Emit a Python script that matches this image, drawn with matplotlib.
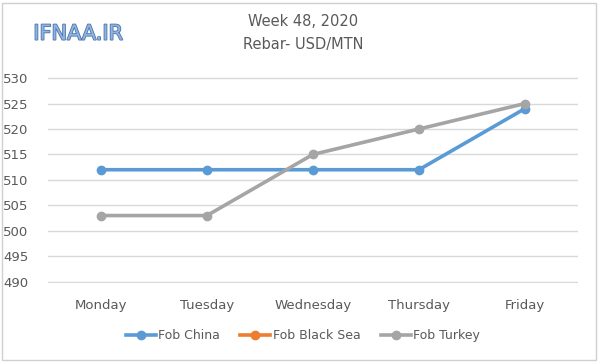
import matplotlib.pyplot as plt
import matplotlib.patheffects as pe
import numpy as np

# data
days = ["Monday", "Tuesday", "Wednesday", "Thursday", "Friday"]
fob_china = [512, 512, 512, 512, 524]
fob_black_sea = [np.nan] * 5  # no values reported this week
fob_turkey = [503, 503, 515, 520, 525]

text_col = "#595959"

fig = plt.figure(figsize=(6, 3.62), dpi=100)
ax = fig.add_axes([0.08, 0.219, 0.883, 0.568])

x = np.arange(len(days))
ax.plot(x, fob_china, color="#5B9BD5", lw=2.6, marker="o", ms=6, label="Fob China", zorder=3)
ax.plot(x, fob_black_sea, color="#ED7D31", lw=2.6, marker="o", ms=6, label="Fob Black Sea", zorder=3)
ax.plot(x, fob_turkey, color="#A5A5A5", lw=2.6, marker="o", ms=6, label="Fob Turkey", zorder=3)

ax.set_xlim(-0.5, len(days) - 0.5)
ax.set_ylim(489.8, 530.2)
ax.set_yticks(range(490, 531, 5))
ax.set_xticks(x)
ax.set_xticklabels(days)
ax.grid(axis="y", color="#D9D9D9", lw=1)
ax.set_axisbelow(True)
for s in ax.spines.values():
    s.set_visible(False)
ax.tick_params(length=0, colors=text_col, labelsize=9.5)
ax.tick_params(axis="x", pad=12)
ax.tick_params(axis="y", pad=14)

fig.text(0.505, 0.94, "Week 48, 2020", ha="center", va="center", fontsize=10.5, color=text_col)
fig.text(0.505, 0.878, "Rebar- USD/MTN", ha="center", va="center", fontsize=10.5, color=text_col)

# watermark
fig.text(0.13, 0.907, "IFNAA.IR", ha="center", va="center", fontsize=15,
         color="#8DB4E2", path_effects=[pe.withStroke(linewidth=1.2, foreground="#4F73A8")])

fig.legend(loc="center", bbox_to_anchor=(0.505, 0.072), ncol=3, frameon=False,
           fontsize=9, labelcolor=text_col, handlelength=2.4, columnspacing=1.6,
           handletextpad=0.2)

# light frame round the picture
fig.patches.append(plt.Rectangle((0.004, 0.006), 0.99, 0.985, transform=fig.transFigure,
                                 fill=False, edgecolor="#D0D0D0", lw=1))

fig.savefig("out.png", dpi=100)
